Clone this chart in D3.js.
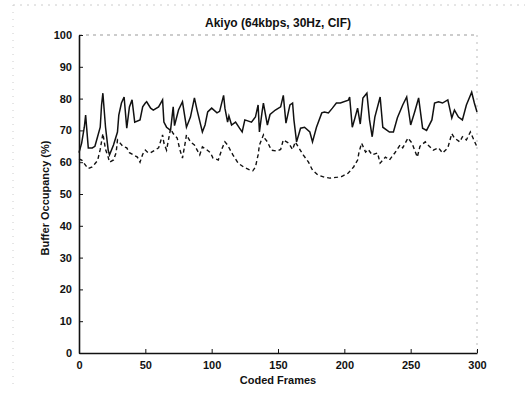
<!DOCTYPE html>
<html>
<head>
<meta charset="utf-8">
<script src="https://cdn.jsdelivr.net/npm/d3@7"></script>
<style>
  body { margin: 0; background: #fff; }
  text { font-family: "Liberation Sans", Arial, sans-serif; fill: #111; }
</style>
</head>
<body>
<div id="chart"></div>
<script>
// chart size and margins (axes box from x 79..477, y 35..353)
var margin = {top: 35, right: 54, bottom: 41, left: 79},
    width = 531 - margin.left - margin.right,
    height = 394 - margin.top - margin.bottom;

var title = "Akiyo (64kbps, 30Hz, CIF)";
var xLabel = "Coded Frames";
var yLabel = "Buffer Occupancy (%)";
var xTicks = [0, 50, 100, 150, 200, 250, 300];
var yTicks = [0, 10, 20, 30, 40, 50, 60, 70, 80, 90, 100];

// solid line
var solidFrames = [0, 2, 4, 5, 7, 10, 12, 14, 16, 17, 18, 20, 22, 23, 26, 29, 30, 32, 34, 36,
  38, 40, 42, 46, 48, 50, 51, 54, 56, 60, 63, 64, 66, 69, 71, 72, 75, 78, 81, 84,
  87, 89, 93, 95, 97, 100, 104, 106, 109, 110, 112, 113, 115, 118, 121, 123, 125, 130, 133, 135,
  136, 138, 139, 142, 144, 148, 152, 154, 156, 159, 161, 162, 164, 167, 170, 174, 176, 179, 183, 185,
  188, 191, 194, 197, 203, 204, 206, 208, 210, 212, 214, 217, 219, 221, 223, 227, 229, 234, 237, 240,
  244, 247, 250, 253, 256, 259, 262, 266, 268, 271, 274, 278, 281, 283, 286, 289, 292, 296, 298, 300];
var solidValues = [63, 66, 71, 74.8, 64.5, 64.5, 65, 68, 71, 78, 81.7, 71, 63.8, 62.3, 65.4, 69.5, 74.8, 78.6, 80.5, 70.7,
  77.4, 79.6, 72.6, 73.3, 77.4, 78.6, 79, 77, 76.4, 77.4, 79.6, 72.6, 71, 70, 77.4, 71.5, 76.4, 79, 71, 74.2,
  80.2, 76.4, 69.5, 71.7, 75.8, 77, 75.5, 76, 81, 77, 72.6, 74.5, 71.7, 72.6, 70.7, 69.5, 73.3, 72.6, 74.2, 78,
  69.5, 75.8, 78.6, 71.7, 75, 76.4, 77.4, 81, 72.3, 78, 78.6, 73.3, 66.4, 70.7, 71, 69.5, 66.4, 71, 75.5, 75.8,
  75.5, 77, 78.6, 78.6, 79.5, 80.5, 71, 73.9, 77, 72, 80.2, 81.7, 73.3, 68, 74.2, 80.5, 71, 69.5, 69.5, 74,
  78, 80.5, 71.7, 75.8, 80.2, 70.7, 70, 73.3, 78.6, 79, 78.6, 79.6, 73.9, 76.4, 74.2, 73.3, 78, 82, 78.6, 75.8];

// dashed line
var dashFrames = [0, 2, 5, 7, 10, 12, 14, 16, 18, 20, 22, 23, 26, 28, 29, 31, 33, 36, 38, 41,
  44, 46, 48, 50, 52, 54, 56, 60, 63, 64, 66, 69, 71, 74, 76, 78, 80, 81, 84, 87,
  91, 93, 96, 99, 101, 105, 108, 110, 112, 116, 120, 124, 129, 131, 133, 135, 136, 139, 140, 142,
  145, 149, 152, 154, 158, 161, 163, 165, 169, 173, 176, 180, 185, 189, 195, 198, 203, 207, 210, 211,
  213, 216, 218, 221, 225, 227, 231, 234, 238, 242, 244, 248, 251, 253, 255, 257, 261, 263, 267, 271,
  274, 278, 281, 283, 287, 289, 292, 295, 297, 300];
var dashValues = [61, 60.7, 59, 58, 58.5, 59.5, 60.5, 64, 69, 64, 61.6, 60, 60.7, 63, 67, 66, 65, 64.5, 63, 62.3,
  61.6, 60, 62.5, 63.8, 63, 63, 63.5, 64.5, 68.6, 66, 63.8, 70.5, 69, 67.6, 64, 61.3, 66, 68.6, 66.4, 65.4,
  62.3, 64.8, 64, 63, 61.3, 60.7, 64.5, 66.4, 65.4, 62.3, 59.7, 58.5, 57.5, 57.3, 58.5, 62.3, 65.4, 68.6, 67.5, 66.4,
  63.8, 63.5, 64, 67, 66, 64, 66.4, 65, 62.3, 60, 57.5, 56, 55.3, 55, 55.3, 55.5, 56.6, 58.5, 60.7, 63,
  66, 63.2, 64, 62.3, 62.9, 59.7, 61.6, 60.7, 62.9, 65.4, 64.5, 67.6, 66, 63.8, 61.6, 65, 66.4, 65.4, 63.8, 64.5,
  62.9, 64.5, 69, 67.6, 66.4, 68, 67, 69.5, 67.6, 64.8];

function init() {
  createLineChart("#chart");
}

function createLineChart(id) {
  var svg = d3.select(id)
    .append("svg")
    .attr("width", width + margin.left + margin.right)
    .attr("height", height + margin.top + margin.bottom);

  // faint scan frame
  svg.append("line").attr("x1", 13).attr("x2", 13).attr("y1", 5).attr("y2", 390)
    .attr("stroke", "#ccc").attr("stroke-dasharray", "1,6");
  svg.append("line").attr("x1", 13).attr("x2", 525).attr("y1", 5).attr("y2", 5)
    .attr("stroke", "#ccc").attr("stroke-dasharray", "2,5");

  var g = svg.append("g")
    .attr("transform", "translate(" + margin.left + "," + margin.top + ")");

  var x = d3.scaleLinear().domain([0, 300]).range([0, width]);
  var y = d3.scaleLinear().domain([0, 100]).range([height, 0]);

  // top and right box edges, faint in the scan
  g.append("line").attr("x1", 0).attr("x2", width).attr("y1", 0).attr("y2", 0)
    .attr("stroke", "#999").attr("stroke-dasharray", "3,4");
  g.append("line").attr("x1", width).attr("x2", width).attr("y1", 0).attr("y2", height)
    .attr("stroke", "#bbb").attr("stroke-dasharray", "2,5");

  // X axis (ticks point inward)
  var xAxis = g.append("g")
    .attr("transform", "translate(0," + height + ")")
    .call(d3.axisBottom(x).tickValues(xTicks).tickSizeInner(-4).tickSizeOuter(0).tickPadding(8));
  xAxis.selectAll("text").style("font-size", "11px").style("font-weight", "bold");

  // Y axis
  var yAxis = g.append("g")
    .call(d3.axisLeft(y).tickValues(yTicks).tickSizeInner(-4).tickSizeOuter(0).tickPadding(7));
  yAxis.selectAll("text").style("font-size", "11px").style("font-weight", "bold");

  g.selectAll(".domain").attr("stroke", "#111").attr("stroke-width", 1.6);
  g.selectAll(".tick line").attr("stroke", "#111");

  var solid = solidFrames.map(function (f, i) { return [f, solidValues[i]]; });
  var dashed = dashFrames.map(function (f, i) { return [f, dashValues[i]]; });

  var line = d3.line()
    .x(function (d) { return x(d[0]); })
    .y(function (d) { return y(d[1]); });

  g.append("path")
    .datum(dashed)
    .attr("fill", "none")
    .attr("stroke", "#111")
    .attr("stroke-width", 1.4)
    .attr("stroke-dasharray", "4,3")
    .attr("d", line);

  g.append("path")
    .datum(solid)
    .attr("fill", "none")
    .attr("stroke", "#111")
    .attr("stroke-width", 1.5)
    .attr("d", line);

  // Title and labels
  svg.append("text")
    .attr("x", margin.left + width / 2)
    .attr("y", 27)
    .attr("text-anchor", "middle")
    .style("font-size", "12px")
    .style("font-weight", "bold")
    .text(title);

  svg.append("text")
    .attr("x", margin.left + width / 2)
    .attr("y", 384)
    .attr("text-anchor", "middle")
    .style("font-size", "11px")
    .style("font-weight", "bold")
    .text(xLabel);

  svg.append("text")
    .attr("transform", "translate(49," + 198 + ")rotate(-90)")
    .attr("text-anchor", "middle")
    .style("font-size", "11px")
    .style("font-weight", "bold")
    .text(yLabel);
}

init();
</script>
</body>
</html>
